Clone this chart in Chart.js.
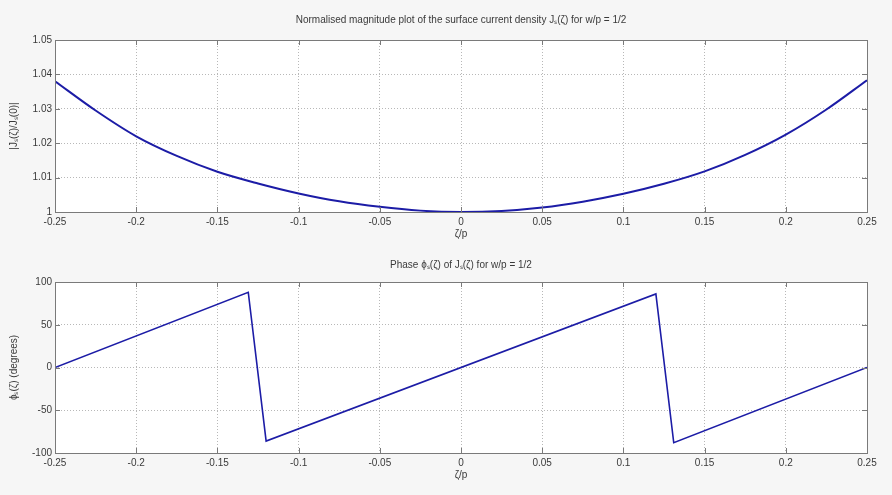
<!DOCTYPE html>
<html>
<head>
<meta charset="utf-8">
<script src="https://cdn.jsdelivr.net/npm/chart.js@4"></script>
<style>
  body { margin: 0; background: #f6f6f6; }
  #wrap { position: relative; width: 892px; height: 495px; }
  #top-box { position: absolute; left: 0; top: 0; width: 892px; height: 250px; }
  #bottom-box { position: absolute; left: 0; top: 250px; width: 892px; height: 245px; }
</style>
</head>
<body>
<div id="wrap">
  <div id="top-box"><canvas id="magnitude-chart"></canvas></div>
  <div id="bottom-box"><canvas id="phase-chart"></canvas></div>
</div>
<script>
// magnitude curve
const magZeta = [-0.25, -0.225, -0.2, -0.175, -0.15, -0.125, -0.1, -0.075, -0.05, -0.025, 0,
                 0.025, 0.05, 0.075, 0.1, 0.125, 0.15, 0.175, 0.2, 0.225, 0.25];
const magValues = [1.038, 1.0295, 1.022, 1.0163, 1.0117, 1.0083, 1.0054, 1.0031, 1.0015, 1.0004, 1.0,
                   1.0003, 1.0013, 1.003, 1.0053, 1.0082, 1.0118, 1.0166, 1.0225, 1.0298, 1.0383];

// phase sawtooth corners
const phaseZeta = [-0.25, -0.131, -0.12, 0.12, 0.131, 0.25];
const phaseValues = [0, 88, -86, 86, -88, 0];

const xTicks = [-0.25, -0.2, -0.15, -0.1, -0.05, 0, 0.05, 0.1, 0.15, 0.2, 0.25];
const magTicks = [1, 1.01, 1.02, 1.03, 1.04, 1.05];
const phaseTicks = [-100, -50, 0, 50, 100];

const lineColor = '#1c1ca6';
const textColor = '#3a3a3a';
const fontFamily = '"Liberation Sans", Arial, sans-serif';

// white plot area, frame and inward ticks like the original
const framePlugin = {
    id: 'frame',
    beforeDraw(chart) {
        const { ctx, chartArea: a } = chart;
        ctx.save();
        ctx.fillStyle = '#f6f6f6';
        ctx.fillRect(0, 0, chart.width, chart.height);
        ctx.fillStyle = '#ffffff';
        ctx.fillRect(a.left, a.top, a.right - a.left, a.bottom - a.top);
        ctx.restore();
    },
    afterDraw(chart, args, opts) {
        const { ctx, chartArea: a, scales } = chart;
        ctx.save();
        ctx.strokeStyle = '#7a7a7a';
        ctx.lineWidth = 1;
        ctx.beginPath();
        scales.x.ticks.forEach(t => {
            const px = Math.round(scales.x.getPixelForValue(t.value)) + 0.5;
            ctx.moveTo(px, a.bottom); ctx.lineTo(px, a.bottom - 5);
            ctx.moveTo(px, a.top); ctx.lineTo(px, a.top + 5);
        });
        scales.y.ticks.forEach(t => {
            const py = Math.round(scales.y.getPixelForValue(t.value)) + 0.5;
            ctx.moveTo(a.left, py); ctx.lineTo(a.left + 5, py);
            ctx.moveTo(a.right, py); ctx.lineTo(a.right - 5, py);
        });
        ctx.stroke();
        ctx.strokeRect(Math.round(a.left) + 0.5, Math.round(a.top) + 0.5,
                       Math.round(a.right - a.left), Math.round(a.bottom - a.top));
        // title centred over the axes
        ctx.fillStyle = textColor;
        ctx.font = '10px ' + fontFamily;
        ctx.textAlign = 'center';
        ctx.textBaseline = 'middle';
        ctx.fillText(opts.text, (a.left + a.right) / 2, opts.y);
        ctx.restore();
    }
};

function makeOptions(yMin, yMax, yTicks, yLabel, title, titleY, topPad, bottomPad) {
    return {
        responsive: true,
        maintainAspectRatio: false,
        animation: false,
        layout: { padding: { top: topPad, right: 25, left: 0, bottom: bottomPad } },
        plugins: {
            legend: { display: false },
            tooltip: { enabled: false },
            frame: { text: title, y: titleY }
        },
        scales: {
            x: {
                type: 'linear',
                min: -0.25,
                max: 0.25,
                afterBuildTicks: s => { s.ticks = xTicks.map(v => ({ value: v })); },
                afterFit: s => { s.height = 28; },
                ticks: {
                    color: textColor,
                    font: { size: 10, family: fontFamily },
                    padding: 4,
                    maxRotation: 0,
                    callback: v => String(+v.toFixed(2))
                },
                grid: { color: '#b8b8b8', drawTicks: false, tickLength: 0, drawOnChartArea: true },
                border: { display: false, dash: [1, 2] },
                title: { display: true, text: 'ζ/p', color: textColor,
                         font: { size: 10, family: fontFamily }, padding: { top: 0, bottom: 0 } }
            },
            y: {
                min: yMin,
                max: yMax,
                afterBuildTicks: s => { s.ticks = yTicks.map(v => ({ value: v })); },
                afterFit: s => { s.width = 55; },
                ticks: {
                    color: textColor,
                    font: { size: 10, family: fontFamily },
                    padding: 3,
                    callback: v => String(+v.toFixed(2))
                },
                grid: { color: '#b8b8b8', drawTicks: false, tickLength: 0 },
                border: { display: false, dash: [1, 2] },
                title: { display: true, text: yLabel, color: textColor,
                         font: { size: 10, family: fontFamily }, padding: { top: 8, bottom: 0 } }
            }
        }
    };
}

new Chart(document.getElementById('magnitude-chart'), {
    type: 'scatter',
    data: {
        datasets: [{
            data: magZeta.map((z, i) => ({ x: z, y: magValues[i] })),
            showLine: true,
            borderColor: lineColor,
            borderWidth: 2,
            pointRadius: 0,
            cubicInterpolationMode: 'monotone'
        }]
    },
    options: makeOptions(1, 1.05, magTicks, '|Jₛ(ζ)/Jₛ(0)|',
        'Normalised magnitude plot of the surface current density Jₛ(ζ) for w/p = 1/2', 20, 40, 10),
    plugins: [framePlugin]
});

new Chart(document.getElementById('phase-chart'), {
    type: 'scatter',
    data: {
        datasets: [{
            data: phaseZeta.map((z, i) => ({ x: z, y: phaseValues[i] })),
            showLine: true,
            borderColor: lineColor,
            borderWidth: 1.6,
            pointRadius: 0
        }]
    },
    options: makeOptions(-100, 100, phaseTicks, 'ϕₛ(ζ) (degrees)',
        'Phase ϕₛ(ζ) of Jₛ(ζ) for w/p = 1/2', 15, 32, 14),
    plugins: [framePlugin]
});
</script>
</body>
</html>
